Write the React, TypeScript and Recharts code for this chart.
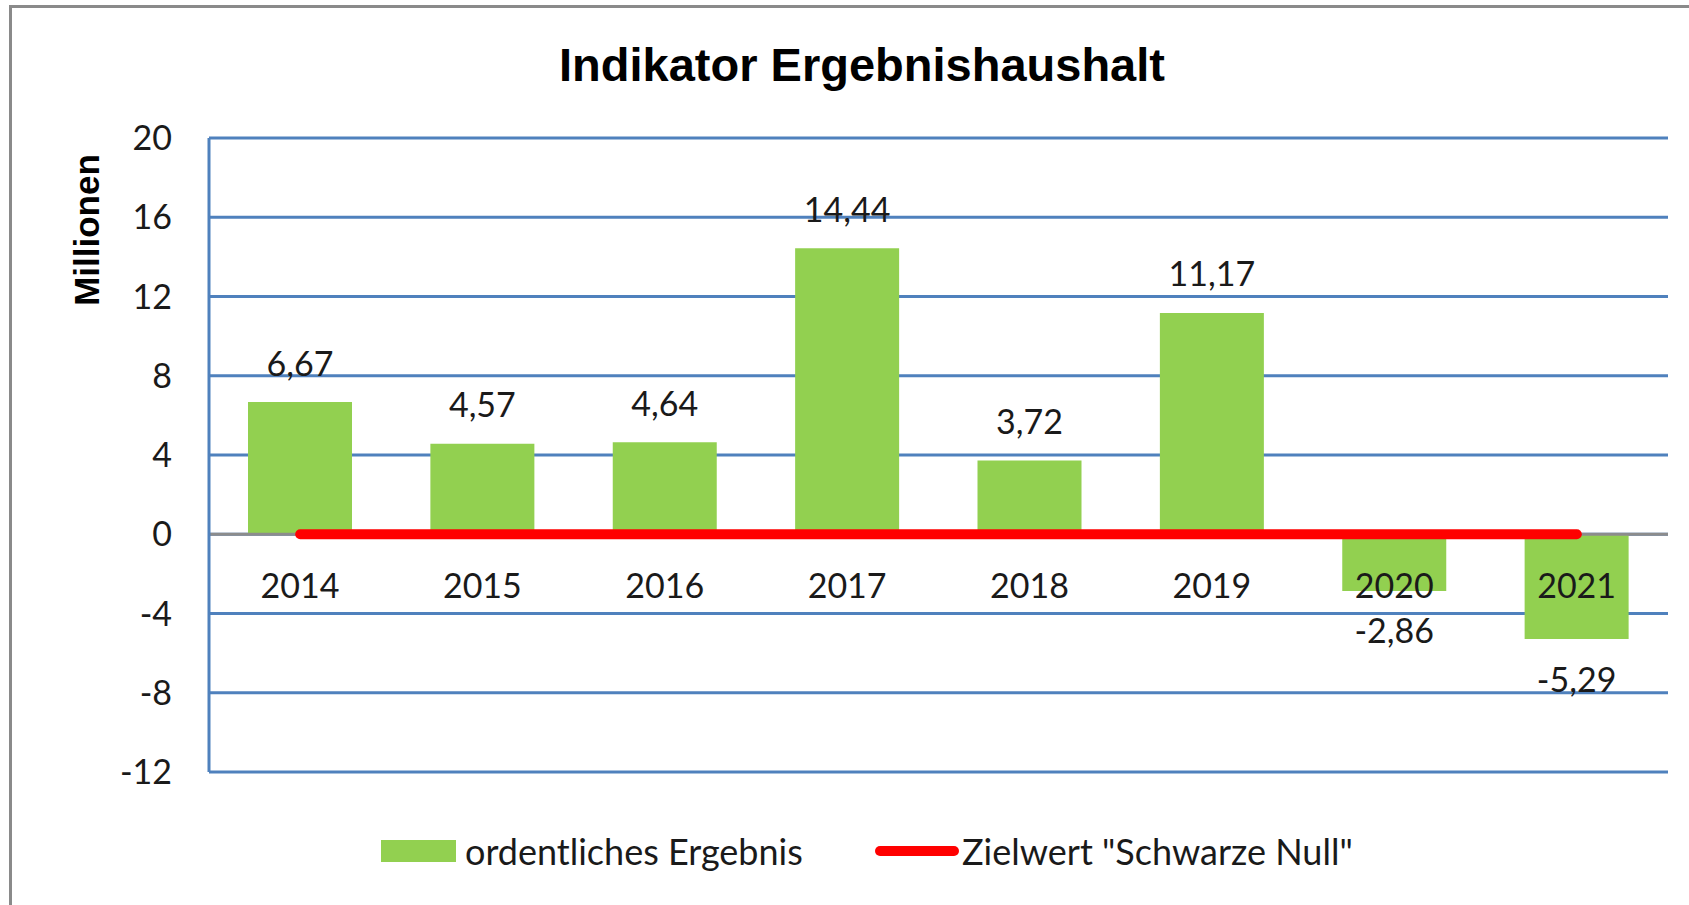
import React from "react";
import {
  ComposedChart,
  Bar,
  Line,
  XAxis,
  YAxis,
  CartesianGrid,
  ReferenceLine,
  LabelList,
} from "recharts";

const title = "Indikator Ergebnishaushalt";
const yTitle = "Millionen";
const years = ["2014", "2015", "2016", "2017", "2018", "2019", "2020", "2021"];
const ergebnis = [6.67, 4.57, 4.64, 14.44, 3.72, 11.17, -2.86, -5.29];
const zielwert = [0, 0, 0, 0, 0, 0, 0, 0];
const yTicks = [-12, -8, -4, 0, 4, 8, 12, 16, 20];
const seriesNames = ["ordentliches Ergebnis", 'Zielwert "Schwarze Null"'];

const data = years.map((year, i) => ({
  year,
  ergebnis: ergebnis[i],
  ziel: zielwert[i],
}));

const GREEN = "#92D050";
const RED = "#FF0000";
const GRID = "#4F81BD";
const TEXT = "#1a1a1a";
const FONT = "Lato, 'Open Sans', sans-serif";

const fmt = (v: number) => v.toFixed(2).replace(".", ",");

// value label above positive bars, below negative ones
const ValueLabel = (props: any) => {
  const { x, y, width, height, value } = props;
  const top = Math.min(y, y + height);
  const bottom = Math.max(y, y + height);
  const cy = value >= 0 ? top - 40 : bottom + 39;
  return (
    <text
      x={x + width / 2}
      y={cy}
      textAnchor="middle"
      dominantBaseline="central"
      fontFamily={FONT}
      fontSize={34}
      fill={TEXT}
    >
      {fmt(value)}
    </text>
  );
};

// category name just under the zero line
const YearLabel = (props: any) => {
  const { x, y, width, height, value, index } = props;
  const top = Math.min(y, y + height);
  const bottom = Math.max(y, y + height);
  const zero = ergebnis[index] >= 0 ? bottom : top;
  return (
    <text
      x={x + width / 2}
      y={zero + 50}
      textAnchor="middle"
      dominantBaseline="central"
      fontFamily={FONT}
      fontSize={34}
      fill={TEXT}
    >
      {value}
    </text>
  );
};

const legendText: React.CSSProperties = {
  position: "absolute",
  top: 832,
  lineHeight: "38px",
  fontFamily: FONT,
  fontSize: 36,
  color: TEXT,
  whiteSpace: "nowrap",
};

export default function App() {
  return (
    <div
      style={{
        position: "absolute",
        left: 0,
        top: 0,
        width: 1689,
        height: 905,
        background: "#fff",
        overflow: "hidden",
      }}
    >
      <div
        style={{
          position: "absolute",
          left: 9,
          top: 5,
          width: 1800,
          height: 1000,
          borderLeft: "3px solid #8a8a8a",
          borderTop: "3px solid #8a8a8a",
        }}
      />
      <div
        style={{
          position: "absolute",
          left: 862,
          top: 41,
          transform: "translateX(-50%)",
          fontFamily: "'Liberation Sans', Arial, sans-serif",
          fontWeight: "bold",
          fontSize: 47,
          lineHeight: "47px",
          whiteSpace: "nowrap",
          color: "#000",
        }}
      >
        {title}
      </div>
      <div
        style={{
          position: "absolute",
          left: 86,
          top: 230,
          transform: "translate(-50%, -50%) rotate(-90deg)",
          fontFamily: "'Liberation Sans', Arial, sans-serif",
          fontWeight: "bold",
          fontSize: 35,
          lineHeight: "35px",
          whiteSpace: "nowrap",
          color: "#000",
        }}
      >
        {yTitle}
      </div>

      <div style={{ position: "absolute", left: 0, top: 0 }}>
        <ComposedChart
          width={1689}
          height={905}
          data={data}
          margin={{ top: 138, right: 21, bottom: 133, left: 149 }}
        >
          <CartesianGrid vertical={false} stroke={GRID} strokeWidth={3} />
          <XAxis dataKey="year" hide />
          <YAxis
            width={60}
            domain={[-12, 20]}
            ticks={yTicks}
            interval={0}
            axisLine={{ stroke: GRID, strokeWidth: 3 }}
            tickLine={false}
            tickSize={0}
            tickMargin={37}
            tick={{ fontFamily: FONT, fontSize: 34, fill: TEXT }}
          />
          <ReferenceLine y={0} stroke="#8c8c8c" strokeWidth={3} />
          <Bar
            dataKey="ergebnis"
            name={seriesNames[0]}
            fill={GREEN}
            barSize={104}
            isAnimationActive={false}
          >
            <LabelList dataKey="ergebnis" content={ValueLabel} />
            <LabelList dataKey="year" content={YearLabel} />
          </Bar>
          <Line
            dataKey="ziel"
            name={seriesNames[1]}
            stroke={RED}
            strokeWidth={10}
            strokeLinecap="round"
            dot={false}
            activeDot={false}
            isAnimationActive={false}
          />
        </ComposedChart>
      </div>

      {/* legend */}
      <div
        style={{
          position: "absolute",
          left: 381,
          top: 840,
          width: 75,
          height: 22,
          background: GREEN,
        }}
      />
      <div style={{ ...legendText, left: 465 }}>{seriesNames[0]}</div>
      <div
        style={{
          position: "absolute",
          left: 875,
          top: 846,
          width: 84,
          height: 10,
          borderRadius: 5,
          background: RED,
        }}
      />
      <div style={{ ...legendText, left: 962 }}>{seriesNames[1]}</div>
    </div>
  );
}
